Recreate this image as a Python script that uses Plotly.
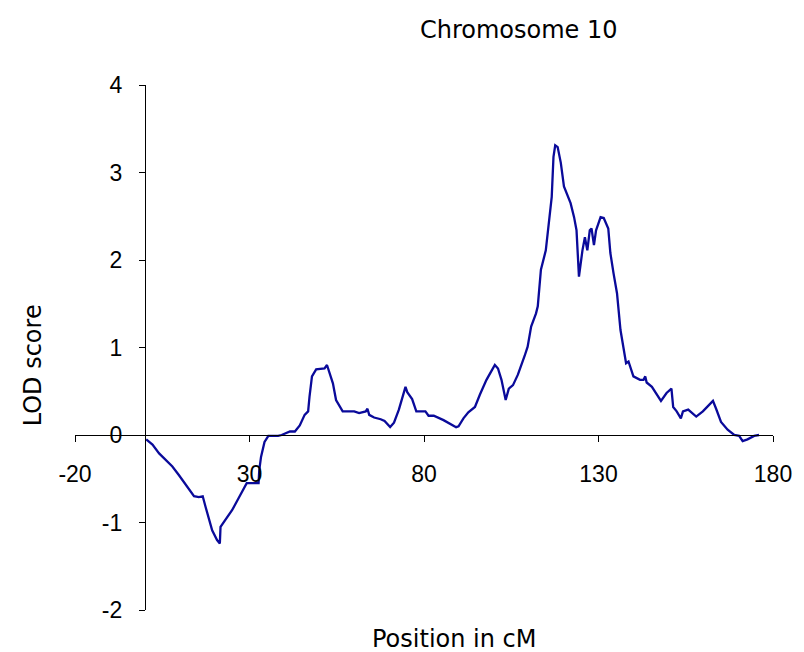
import plotly.graph_objects as go

# LOD score trace along chromosome 10
position_cm = [
    0.4, 2.2, 4.1, 5.1, 6.0, 7.9, 9.8, 11.7, 14.1, 15.5, 16.6, 17.4, 18.4, 19.3,
    20.7, 21.5, 21.7, 23.1, 25.0, 26.9, 28.8, 29.2, 32.6, 32.8, 33.3, 34.3, 35.4,
    38.2, 39.2, 41.6, 43.0, 44.4, 45.8, 46.8, 47.2, 47.9, 49.1, 50.5, 51.5, 52.2,
    52.9, 53.9, 54.8, 56.7, 60.0, 61.4, 63.3, 63.8, 64.3, 65.7, 67.6, 68.7, 70.3,
    71.4, 72.8, 73.8, 74.7, 75.2, 76.6, 77.8, 78.9, 80.4, 81.3, 82.8, 85.6, 87.5,
    89.2, 89.9, 91.3, 92.7, 94.6, 96.0, 97.9, 99.3, 100.3, 101.2, 102.2, 103.4,
    104.3, 105.5, 106.9, 108.8, 109.7, 110.7, 112.1, 112.6, 113.5, 114.9, 115.9,
    116.6, 117.1, 117.6, 118.3, 119.2, 120.1, 121.1, 122.0, 123.0, 123.7, 124.4,
    124.9, 125.4, 126.1, 126.8, 127.5, 128.0, 128.7, 129.3, 130.6, 131.5, 132.8,
    133.4, 134.3, 135.3, 136.3, 137.2, 137.9, 138.6, 140.0, 141.9, 142.9, 143.4,
    143.8, 145.3, 146.7, 147.9, 149.5, 150.9, 151.4, 152.4, 153.6, 154.2, 155.7,
    158.0, 159.9, 161.8, 162.8, 163.7, 165.1, 167.0, 168.9, 170.3, 171.3, 172.7,
    174.6, 176.0,
]
lod_score = [
    -0.05, -0.11, -0.21, -0.25, -0.28, -0.36, -0.46, -0.57, -0.70, -0.71, -0.70,
    -0.82, -0.97, -1.09, -1.20, -1.24, -1.05, -0.97, -0.86, -0.72, -0.57, -0.55,
    -0.55, -0.40, -0.25, -0.08, -0.01, -0.01, 0.00, 0.04, 0.04, 0.11, 0.23, 0.27,
    0.44, 0.67, 0.75, 0.76, 0.76, 0.80, 0.72, 0.59, 0.40, 0.27, 0.27, 0.25, 0.27,
    0.30, 0.23, 0.20, 0.18, 0.16, 0.09, 0.14, 0.29, 0.44, 0.55, 0.49, 0.41, 0.27,
    0.27, 0.27, 0.22, 0.22, 0.17, 0.13, 0.09, 0.10, 0.19, 0.26, 0.32, 0.46, 0.63,
    0.73, 0.80, 0.76, 0.63, 0.40, 0.53, 0.57, 0.69, 0.90, 1.01, 1.24, 1.39, 1.47,
    1.89, 2.11, 2.46, 2.72, 3.18, 3.31, 3.29, 3.11, 2.84, 2.74, 2.65, 2.49, 2.34,
    1.81, 2.00, 2.11, 2.26, 2.11, 2.34, 2.36, 2.17, 2.34, 2.49, 2.48, 2.36, 2.08,
    1.85, 1.62, 1.20, 0.97, 0.82, 0.84, 0.67, 0.63, 0.63, 0.67, 0.60, 0.55, 0.46,
    0.39, 0.48, 0.53, 0.32, 0.27, 0.19, 0.27, 0.29, 0.21, 0.27, 0.35, 0.39, 0.30,
    0.15, 0.06, 0.00, -0.01, -0.07, -0.05, -0.01, 0.00,
]

x_ticks = [-20, 30, 80, 130, 180]
x_labels = ["-20", "30", "80", "130", "180"]
y_ticks = [-2, -1, 0, 1, 2, 3, 4]
y_labels = ["-2", "-1", "0", "1", "2", "3", "4"]

TICK_FONT = "Liberation Sans, Arial, sans-serif"
TITLE_FONT = "DejaVu Sans, sans-serif"

# page has an 8px body margin, so the figure is 8px smaller than the window
W, H = 796, 644
L, R, T, B = 67, 25, 77, 42


def paper(xpx, ypx):
    # window pixel -> paper fraction
    fx = (xpx - 8 - L) / (W - L - R)
    fy = (H - (ypx - 8) - B) / (H - T - B)
    return fx, fy


fig = go.Figure()
fig.add_trace(go.Scatter(
    x=position_cm, y=lod_score, mode="lines",
    line=dict(color="#0a0a9a", width=2.3),
    showlegend=False, hoverinfo="skip",
))

annots = []
for txt, px_, py_, ang in [("Chromosome 10", 523, 30, 0),
                           ("LOD score", 33, 365, -90),
                           ("Position in cM", 457, 639, 0)]:
    fx, fy = paper(px_, py_)
    annots.append(dict(text=txt, x=fx, y=fy, xref="paper", yref="paper",
                       xanchor="center", yanchor="middle",
                       showarrow=False, textangle=ang,
                       font=dict(family=TITLE_FONT, size=24, color="black")))

fig.update_layout(
    width=W, height=H,
    margin=dict(l=L, r=R, t=T, b=B),
    plot_bgcolor="white", paper_bgcolor="white",
    font=dict(family=TICK_FONT, size=23, color="black"),
    xaxis=dict(
        range=[-20, 180], tickvals=x_ticks, ticktext=x_labels,
        showgrid=False, zeroline=False,
        showline=True, linecolor="black", linewidth=1,
        ticks="outside", ticklen=6, tickcolor="black",
        anchor="free", position=1 / 3, ticklabelstandoff=12,
    ),
    yaxis=dict(
        range=[-2, 4], tickvals=y_ticks, ticktext=y_labels,
        showgrid=False, zeroline=False,
        showline=True, linecolor="black", linewidth=1,
        ticks="outside", ticklen=6, tickcolor="black",
        anchor="free", position=0.1, ticklabelstandoff=12,
    ),
    annotations=annots,
)

fig.write_html("out.html")
